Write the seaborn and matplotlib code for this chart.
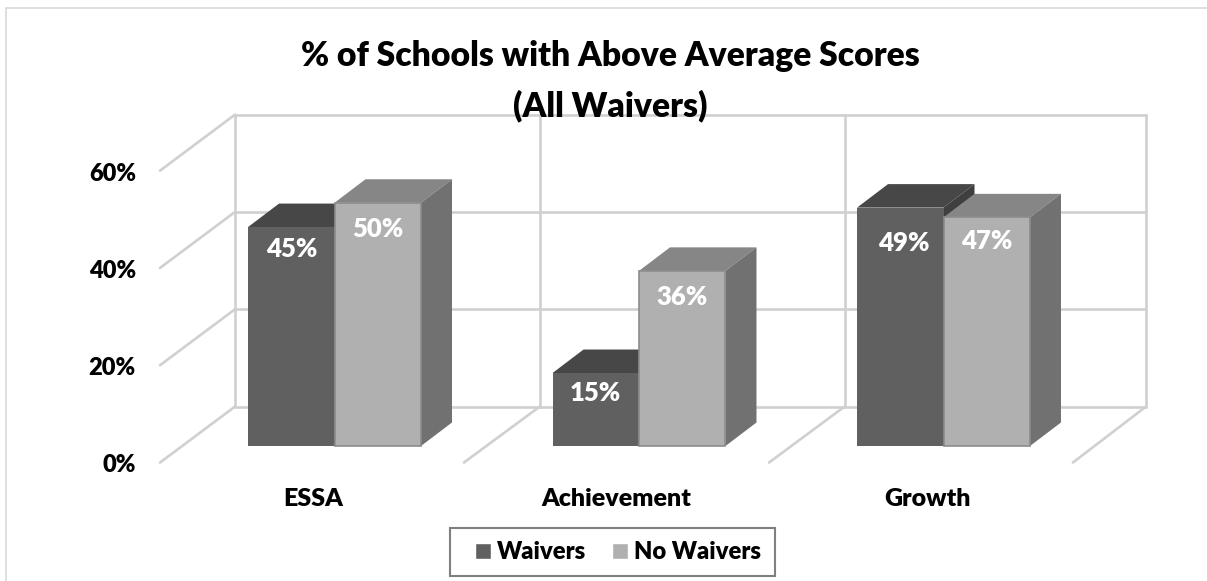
import numpy as np
import pandas as pd
import seaborn as sns
import matplotlib.pyplot as plt
from matplotlib.lines import Line2D
from matplotlib.patches import Polygon, Rectangle
from matplotlib.transforms import ScaledTranslation

# Data
categories = ['ESSA', 'Achievement', 'Growth']
waivers = [45, 15, 49]
no_waivers = [50, 36, 47]
series_names = ['Waivers', 'No Waivers']
y_ticks = [0, 20, 40, 60]
title_text = '% of Schools with Above Average Scores\n(All Waivers)'

# Styles
FRONT = {'Waivers': '#606060', 'No Waivers': '#b0b0b0'}
TOP = {'Waivers': '#474747', 'No Waivers': '#868686'}
SIDE = {'Waivers': '#3f3f3f', 'No Waivers': '#717171'}
GRID = '#d0d0d0'
FONT = 'Lato'
WEIGHT = 'heavy'
W, H = 1207, 581

# px per data unit, the bars' 3D depth and the wall placement are all in these
PX_X = 304.5
PX_Y = 4.865
DEPTH_X = 31 / PX_X
DEPTH_Y = 23.5 / PX_Y
WALL_RISE = 8.1
FRONT_DROP = 3.4
WALL_X = [-0.327, 0.674, 1.675, 2.665]
FLOOR_X = [-0.573, 0.425, 1.427, 2.425]

# label drop under bar top in px, one per bar, plus small x shift
LABEL_DROP = {'Waivers': [22, 20, 35], 'No Waivers': [26, 26, 24]}
LABEL_SHIFT = {'Waivers': [0, 0, 3], 'No Waivers': [0, 0, 0]}
XLABEL_SHIFT = [-21, -23, -16]

sns.set_theme(style='white')
plt.rcParams['font.family'] = [FONT, 'DejaVu Sans']
plt.rcParams['font.weight'] = WEIGHT

df = pd.DataFrame({
    'category': categories * 2,
    'series': [series_names[0]] * 3 + [series_names[1]] * 3,
    'pct': waivers + no_waivers,
})

fig = plt.figure(figsize=(W / 100, H / 100), dpi=100, facecolor='white')
ax = fig.add_axes([140 / W, (H - 446) / H, (1146 - 140) / W, (446 - 154.1) / H])

sns.barplot(data=df, x='category', y='pct', hue='series', hue_order=series_names,
            palette=FRONT, width=0.568, gap=0, saturation=1, ax=ax)
ax.set_xlim(-0.6388, 2.665)
ax.set_ylim(0, 60)
ax.set_xlabel('')
ax.set_ylabel('')
sns.despine(ax=ax, left=True, bottom=True)

# Back wall and floor lines
line_kw = dict(color=GRID, lw=1.9, clip_on=False, zorder=1, solid_capstyle='round')
for v in y_ticks:
    ax.plot([WALL_X[0], WALL_X[-1]], [v + WALL_RISE] * 2, **line_kw)
    ax.plot([FLOOR_X[0], WALL_X[0]], [v - FRONT_DROP, v + WALL_RISE], **line_kw)
for wx in WALL_X:
    ax.plot([wx, wx], [WALL_RISE, 60 + WALL_RISE], **line_kw)
for fx, wx in zip(FLOOR_X[1:], WALL_X[1:]):
    ax.plot([fx, wx], [-FRONT_DROP, WALL_RISE], **line_kw)

# Bars: seaborn draws the front, top and side faces come from each front patch
for s, (name, container) in enumerate(zip(series_names, ax.containers)):
    z = 3 + 2 * s
    for i, bar in enumerate(container):
        x0, w, h = bar.get_x(), bar.get_width(), bar.get_height()
        x1 = x0 + w
        bar.set_zorder(z + 1)
        bar.set_clip_on(False)
        bar.set_edgecolor('#8c8c8c' if name == 'No Waivers' else FRONT[name])
        bar.set_linewidth(1.2 if name == 'No Waivers' else 0)
        ax.add_patch(Polygon([(x0, h), (x1, h), (x1 + DEPTH_X, h + DEPTH_Y), (x0 + DEPTH_X, h + DEPTH_Y)],
                             facecolor=TOP[name], edgecolor='none', clip_on=False, zorder=z))
        ax.add_patch(Polygon([(x1, 0), (x1, h), (x1 + DEPTH_X, h + DEPTH_Y), (x1 + DEPTH_X, DEPTH_Y)],
                             facecolor=SIDE[name], edgecolor='none', clip_on=False, zorder=z))
        ax.annotate(f'{h:.0f}%', xy=(x0 + w / 2, h),
                    xytext=(LABEL_SHIFT[name][i] * 0.72, -LABEL_DROP[name][i] * 0.72),
                    textcoords='offset points', ha='center', va='center',
                    color='white', fontsize=18.5, fontweight=WEIGHT, zorder=10)

# Axis text
ax.set_yticks(y_ticks)
ax.set_yticklabels([f'{v}%' for v in y_ticks], fontsize=17, fontweight=WEIGHT, color='black')
ax.tick_params(axis='both', length=0, pad=3)
for lab in ax.get_yticklabels():
    lab.set_transform(lab.get_transform() + ScaledTranslation(0, -17.5 / 100, fig.dpi_scale_trans))
ax.set_xticks(range(len(categories)))
ax.set_xticklabels(categories, fontsize=18, fontweight=WEIGHT, color='black')
ax.tick_params(axis='x', pad=30)
for lab, dx in zip(ax.get_xticklabels(), XLABEL_SHIFT):
    lab.set_transform(lab.get_transform() + ScaledTranslation(dx / 100, 0, fig.dpi_scale_trans))

fig.text(610.5 / W, 1 - 81 / H, title_text, ha='center', va='center', fontsize=24.2,
         fontweight=WEIGHT, color='black', linespacing=1.65, zorder=20)

# Legend, its box is drawn separately because the reference padding is lopsided
sns.move_legend(ax, loc='center', bbox_to_anchor=(618 / W, 1 - 552 / H),
                bbox_transform=fig.transFigure, ncol=2, title=None, frameon=False,
                fontsize=17.1, handlelength=0.65, handleheight=0.65, handletextpad=0.25,
                columnspacing=1.1, borderpad=0, borderaxespad=0)
leg = ax.get_legend()
leg.set_zorder(30)
for t in leg.get_texts():
    t.set_fontweight(WEIGHT)
    t.set_color('black')
fig.add_artist(Rectangle((450 / W, 1 - 576 / H), 325 / W, 48 / H, transform=fig.transFigure,
                         fill=False, edgecolor='#808080', linewidth=1.5))

# Outer chart frame: only the left and top edges show in the crop
frame_kw = dict(transform=fig.transFigure, color='#dcdcdc', lw=1.3)
fig.add_artist(Line2D([6 / W, 6 / W], [0, 1 - 8 / H], **frame_kw))
fig.add_artist(Line2D([6 / W, 1], [1 - 8 / H, 1 - 8 / H], **frame_kw))

fig.savefig('out.png', dpi=100)
